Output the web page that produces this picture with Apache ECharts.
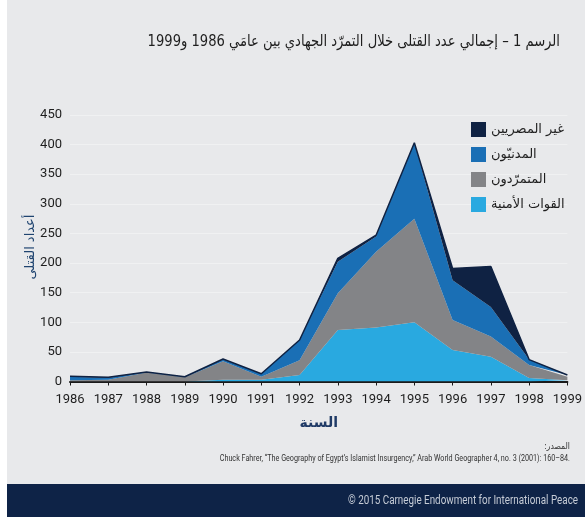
<!DOCTYPE html>
<html><head><meta charset="utf-8">
<script src="https://cdn.jsdelivr.net/npm/echarts@6/dist/echarts.min.js"></script>
<style>html,body{margin:0;padding:0;background:#fff;}#c{width:585px;height:517px;}</style>
</head><body><div id="c"></div>
<script>
const years = ['1986','1987','1988','1989','1990','1991','1992','1993','1994','1995','1996','1997','1998','1999'];
const security    = [0, 0, 0, 0, 3, 3, 11, 87, 91, 100, 53, 42, 6, 2];
const militants   = [2, 3, 15, 7, 31, 5, 25, 62, 128, 175, 51, 34, 22, 6];
const civilians   = [6, 3, 1, 1, 3, 5, 34, 53, 26, 128, 67, 50, 9, 3];
const nonEgyptian = [1, 1, 0, 0, 1, 0, 0, 6, 2, 0, 20, 68, 0, 0];
const yTicks = [0, 50, 100, 150, 200, 250, 300, 350, 400, 450];
const names = ['القوات الأمنية', 'المتمرّدون', 'المدنيّون', 'غير المصريين'];
const colors = ['#29a9e0', '#838487', '#1a6fb5', '#0f2243'];

const chart = echarts.init(document.getElementById('c'));
const mk = (i, data, lw) => ({
  name: names[i], type: 'line', stack: 'total', data: data, symbol: 'none',
  lineStyle: {width: lw, color: colors[i]}, itemStyle: {color: colors[i]},
  areaStyle: {color: colors[i], opacity: 1}, emphasis: {disabled: true}
});
chart.setOption({
  backgroundColor: '#e8e9eb',
  animation: false,
  color: colors,
  legend: {
    data: [names[3], names[2], names[1], names[0]],
    orient: 'vertical', left: 466, top: 117, itemGap: 10,
    itemWidth: 15, itemHeight: 15, icon: 'rect',
    textStyle: {fontSize: 13, color: '#1e1e1e', fontFamily: 'DejaVu Sans'}
  },
  grid: {left: 70, right: 15, top: 115, bottom: 135.5, containLabel: false},
  xAxis: {
    type: 'category', data: years, boundaryGap: false,
    name: 'السنة', nameLocation: 'middle', nameGap: 35,
    nameTextStyle: {fontSize: 14, color: '#1f3a66', fontWeight: 'bold', fontFamily: 'DejaVu Sans'},
    axisLine: {lineStyle: {color: '#1a1a1a', width: 2}},
    axisTick: {alignWithLabel: true, length: 4, lineStyle: {color: '#1a1a1a'}},
    axisLabel: {fontSize: 13, color: '#1e1e1e', margin: 12, fontFamily: 'Roboto'}
  },
  yAxis: {
    type: 'value', min: 0, max: 450, interval: 50,
    axisLine: {show: false}, axisTick: {show: false},
    axisLabel: {fontSize: 13, color: '#1e1e1e', margin: 8, fontFamily: 'Roboto',
      formatter: v => yTicks.includes(v) ? String(v) : ''},
    splitLine: {lineStyle: {color: '#f0f1f2', width: 1}}
  },
  series: [mk(0, security, 0), mk(1, militants, 0), mk(2, civilians, 0), mk(3, nonEgyptian, 1.5)],
  graphic: [
    {type: 'rect', left: 0, top: 0, shape: {width: 7, height: 517}, style: {fill: '#ffffff'}},
    {type: 'text', x: 560, y: 42, scaleX: 0.82,
      style: {text: 'الرسم 1 – إجمالي عدد القتلى خلال التمرّد الجهادي بين عامَي 1986 و1999', x: 0, y: 0,
        textAlign: 'right', textVerticalAlign: 'middle', fontSize: 16, fill: '#1e1e1e', fontFamily: 'DejaVu Sans'}},
    {type: 'text', x: 31, y: 247, rotation: Math.PI / 2,
      style: {text: 'أعداد القتلى', x: 0, y: 0, textAlign: 'center', textVerticalAlign: 'middle',
        fontSize: 13, fill: '#1f4470', fontFamily: 'DejaVu Sans'}},
    {type: 'text', x: 570, y: 447, scaleX: 0.85,
      style: {text: 'المصدر:\u200F', x: 0, y: 0, textAlign: 'right', textVerticalAlign: 'middle', fontSize: 9, fill: '#333', fontFamily: 'DejaVu Sans'}},
    {type: 'text', x: 570, y: 459, scaleX: 0.8,
      style: {text: 'Chuck Fahrer, “The Geography of Egypt’s Islamist Insurgency,” Arab World Geographer 4, no. 3 (2001): 160–84.', x: 0, y: 0,
        textAlign: 'right', textVerticalAlign: 'middle', fontSize: 9, fill: '#333', fontFamily: 'Roboto'}},
    {type: 'rect', left: 7, top: 484, shape: {width: 578, height: 33}, style: {fill: '#0e2347'}},
    {type: 'text', x: 578, y: 501, scaleX: 0.82,
      style: {text: '© 2015 Carnegie Endowment for International Peace', x: 0, y: 0,
        textAlign: 'right', textVerticalAlign: 'middle', fontSize: 12, fill: '#c6ccd6', fontFamily: 'Roboto'}}
  ]
});
</script></body></html>
